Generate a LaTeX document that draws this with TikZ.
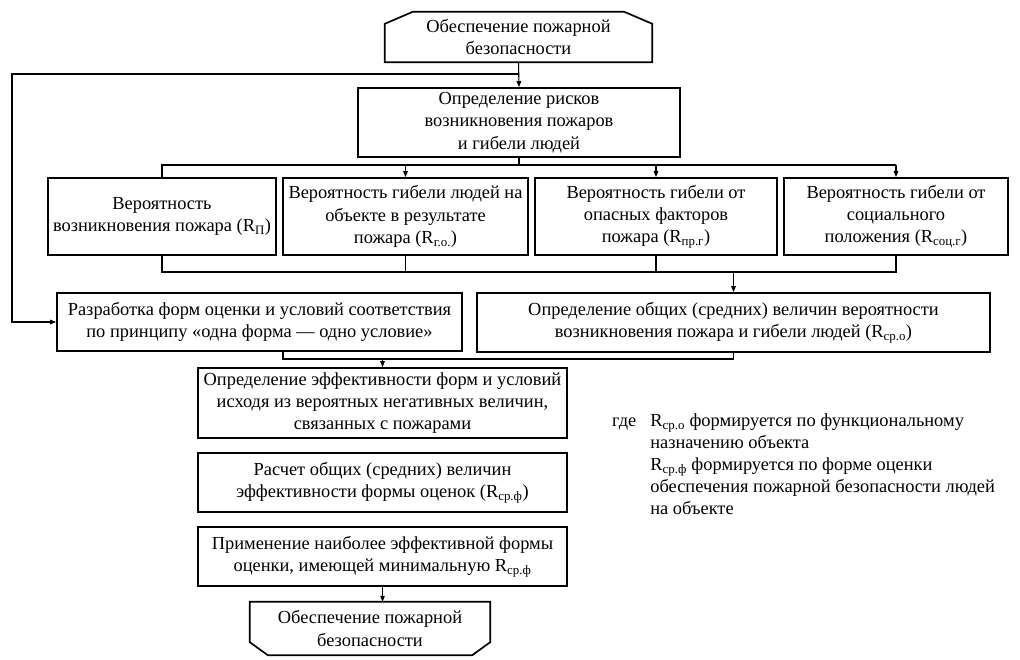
\documentclass[tikz,border=0pt]{standalone}
\usepackage{fontspec}
\setmainfont{Liberation Serif}
\usetikzlibrary{arrows.meta,calc}
\newcommand\Rsub[1]{R\textsubscript{#1}}
\begin{document}
\begin{tikzpicture}[x=1pt,y=-1pt,
  txt/.style={align=center,inner sep=2pt,font=\fontsize{18.4}{22.3}\selectfont},
  box/.style={txt,draw,line width=1.7pt},
  ln/.style={line width=1.1pt},
  arr/.style={ln,-{Triangle[length=6pt,width=4.5pt]}}]
\useasboundingbox (0,0) rectangle (1020,660);
% top terminal
\node[txt,minimum width=267pt,minimum height=50pt] (top) at (518.5,37) {Обеспечение пожарной\\безопасности};
\draw[line width=1.7pt] (top.south west) -- ($(top.north west)+(0,12)$) -- ($(top.north west)+(28,0)$)
  -- ($(top.north east)+(-28,0)$) -- ($(top.north east)+(0,12)$) -- (top.south east) -- cycle;
% risk box
\node[box,minimum width=322pt,minimum height=69pt] (risk) at (519,122.5) {Определение рисков\\возникновения пожаров\\и гибели людей};
% row
\node[box,minimum width=228pt,minimum height=77pt] (A) at (162,216.5) {Вероятность\\возникновения пожара (\Rsub{П})};
\node[box,minimum width=245pt,minimum height=77pt] (B) at (405.5,216.5) {Вероятность гибели людей на\\объекте в результате\\пожара (\Rsub{г.о.})};
\node[box,minimum width=242pt,minimum height=77pt] (C) at (656,216.5) {Вероятность гибели от\\опасных факторов\\пожара (\Rsub{пр.г})};
\node[box,minimum width=224pt,minimum height=77pt] (D) at (896,216.5) {Вероятность гибели от\\социального\\положения (\Rsub{соц.г})};
% second level
\node[box,minimum width=405pt,minimum height=58pt] (dev) at (259.5,322) {Разработка форм оценки и условий соответствия\\по принципу «одна форма — одно условие»};
\node[box,minimum width=513pt,minimum height=59pt] (gen) at (733.5,322.5) {Определение общих (средних) величин вероятности\\возникновения пожара и гибели людей (\Rsub{ср.о})};
% column
\node[box,minimum width=369pt,minimum height=70pt] (eff) at (382.5,403) {Определение эффективности форм и условий\\исходя из вероятных негативных величин,\\связанных с пожарами};
\node[box,minimum width=369pt,minimum height=59pt] (calc) at (382.5,482.5) {Расчет общих (средних) величин\\эффективности формы оценок (\Rsub{ср.ф})};
\node[box,minimum width=369pt,minimum height=59pt] (app) at (382.5,556.5) {Применение наиболее эффективной формы\\оценки, имеющей минимальную \Rsub{ср.ф}};
% bottom terminal
\node[txt,minimum width=240pt,minimum height=53pt] (bot) at (370,628.5) {Обеспечение пожарной\\безопасности};
\draw[line width=1.7pt] (bot.north west) -- ($(bot.south west)+(0,-13)$) -- ($(bot.south west)+(18,0)$)
  -- ($(bot.south east)+(-18,0)$) -- ($(bot.south east)+(0,-13)$) -- (bot.north east) -- cycle;
% legend
\node[anchor=north west,inner sep=0pt,font=\fontsize{18.4}{22}\selectfont] (leg) at (612,411)
  {\begin{tabular}{@{}l@{\hspace{14pt}}l@{}}
   где & \Rsub{ср.о} формируется по функциональному\\
       & назначению объекта\\
       & \Rsub{ср.ф} формируется по форме оценки\\
       & обеспечения пожарной безопасности людей\\
       & на объекте
   \end{tabular}};
% connectors
\coordinate (fbJ) at (519,74);
\coordinate (fbL) at (12,74);
\coordinate (dl) at (162,165);
\coordinate (cl) at (162,272);
\coordinate (jy) at (283,359);
\draw[arr] (top.south) -- (risk.north);
\draw[arr] (fbJ) -- (fbL) |- (dev.west);
\draw[ln] (risk.south) -- (risk.south |- dl);
\draw[ln] (A.north) -- (A.north |- dl) -- (D.north |- dl);
\draw[arr] (B.north |- dl) -- (B.north);
\draw[arr] (C.north |- dl) -- (C.north);
\draw[arr] (D.north |- dl) -- (D.north);
\draw[ln] (A.south) -- (A.south |- cl) -- (D.south |- cl) -- (D.south);
\draw[ln] (B.south) -- (B.south |- cl);
\draw[ln] (C.south) -- (C.south |- cl);
\draw[arr] (gen.north |- cl) -- (gen.north);
\draw[ln] (jy |- dev.south) -- (jy) -| (gen.south);
\draw[arr] (eff.north |- jy) -- (eff.north);
\draw[arr] (app.south) -- (app.south |- bot.north);
\end{tikzpicture}
\end{document}
